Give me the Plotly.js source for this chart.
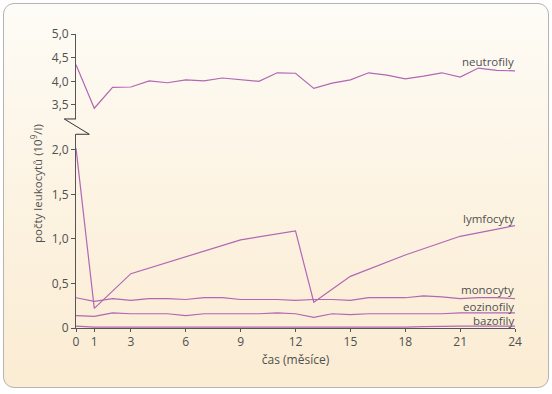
<!DOCTYPE html>
<html>
<head>
<meta charset="utf-8">
<script src="https://cdn.plot.ly/plotly-3.0.1.min.js"></script>
<style>
html,body{margin:0;padding:0;background:#ffffff;}
#wrap{position:relative;width:552px;height:394px;overflow:hidden;}
#frame{position:absolute;left:3px;top:3px;width:544px;height:383px;border:1.5px solid #b4b4b4;border-radius:11px;
background:linear-gradient(to bottom,#fefcf7 0%,#fcf3e2 50%,#fbecd3 100%);}
#chart{position:absolute;left:0;top:0;width:552px;height:394px;}
</style>
</head>
<body>
<div id="wrap"><div id="frame"></div><div id="chart"></div></div>
<script>
// ---- data ----
const months = [0,1,2,3,4,5,6,7,8,9,10,11,12,13,14,15,16,17,18,19,20,21,22,23,24];
const neutrofily = [4.35,3.43,3.87,3.88,4.01,3.97,4.03,4.01,4.07,4.04,4.00,4.18,4.17,3.85,3.96,4.03,4.18,4.13,4.05,4.11,4.18,4.09,4.28,4.23,4.22];
const lymfocytyMonths = [0,1,3,6,9,12,13,15,18,21,24];
const lymfocyty = [2.02,0.22,0.61,0.80,0.99,1.09,0.29,0.58,0.82,1.03,1.15];
const monocyty = [0.34,0.30,0.33,0.31,0.33,0.33,0.32,0.34,0.34,0.32,0.32,0.32,0.31,0.32,0.32,0.31,0.34,0.34,0.34,0.36,0.35,0.33,0.34,0.34,0.33];
const eozinofily = [0.14,0.13,0.17,0.16,0.16,0.16,0.14,0.16,0.16,0.16,0.16,0.17,0.16,0.12,0.16,0.15,0.16,0.16,0.16,0.16,0.16,0.17,0.17,0.17,0.17];
const bazofily = [0.02,0.01,0.01,0.01,0.01,0.01,0.01,0.01,0.01,0.01,0.01,0.01,0.01,0.005,0.01,0.01,0.01,0.01,0.01,0.015,0.02,0.02,0.02,0.02,0.02];
const xTicks = [0,1,3,6,9,12,15,18,21,24];
const xTickText = ['0','1','3','6','9','12','15','18','21','24'];
const yLowTicks = [0,0.5,1.0,1.5,2.0];
const yLowText = ['0','0,5','1,0','1,5','2,0'];
const yHighTicks = [3.5,4.0,4.5,5.0];
const yHighText = ['3,5','4,0','4,5','5,0'];
const seriesNames = ['neutrofily','lymfocyty','monocyty','eozinofily','bazofily'];

const lineColor = '#b266b4';
const textColor = '#505050';
const font = 'Open Sans, Segoe UI, sans-serif';
const ln = {color: lineColor, width: 1.2};

const traces = [
  {x: months, y: neutrofily, yaxis: 'y2', xaxis: 'x', mode: 'lines', line: ln, name: seriesNames[0]},
  {x: lymfocytyMonths, y: lymfocyty, mode: 'lines', line: ln, name: seriesNames[1]},
  {x: months, y: monocyty, mode: 'lines', line: ln, name: seriesNames[2]},
  {x: months, y: eozinofily, mode: 'lines', line: ln, name: seriesNames[3]},
  {x: months, y: bazofily, mode: 'lines', line: ln, name: seriesNames[4]}
];

const lowTop = 0.659, highBottom = 0.711;
const axisCommon = {showline: true, linecolor: '#555', linewidth: 1, ticks: 'outside', ticklen: 4, tickcolor: '#555',
  showgrid: false, zeroline: false, tickfont: {family: font, size: 12, color: textColor}};

const annFont = {family: font, size: 11.5, color: textColor};
const layout = {
  width: 552, height: 394,
  margin: {l: 76, r: 37, t: 34, b: 66},
  paper_bgcolor: 'rgba(0,0,0,0)', plot_bgcolor: 'rgba(0,0,0,0)',
  showlegend: false,
  font: {family: font, color: textColor, size: 12},
  xaxis: Object.assign({}, axisCommon, {range: [0, 24], tickmode: 'array', tickvals: xTicks, ticktext: xTickText,
    anchor: 'y', ticklen: 3,
    title: {text: 'čas (měsíce)', font: {family: font, size: 12, color: textColor}, standoff: 6}}),
  yaxis: Object.assign({}, axisCommon, {domain: [0, lowTop], range: [0, 2.176], tickmode: 'array',
    tickvals: yLowTicks, ticktext: yLowText, anchor: 'x'}),
  yaxis2: Object.assign({}, axisCommon, {domain: [highBottom, 1], range: [3.204, 5.0], tickmode: 'array',
    tickvals: yHighTicks, ticktext: yHighText, anchor: 'x'}),
  shapes: [
    {type: 'path', xref: 'paper', yref: 'paper',
     path: 'M 0,' + highBottom + ' L -0.0267,' + highBottom + ' L 0.0303,' + lowTop + ' L 0,' + lowTop,
     line: {color: '#333', width: 1}}
  ],
  annotations: [
    {text: seriesNames[0], x: 24, y: 4.41, xref: 'x', yref: 'y2', xanchor: 'right', yanchor: 'middle', showarrow: false, font: annFont, borderpad: 0},
    {text: seriesNames[1], x: 24, y: 1.23, xref: 'x', yref: 'y', xanchor: 'right', yanchor: 'middle', showarrow: false, font: annFont, borderpad: 0},
    {text: seriesNames[2], x: 24, y: 0.43, xref: 'x', yref: 'y', xanchor: 'right', yanchor: 'middle', showarrow: false, font: annFont, borderpad: 0},
    {text: seriesNames[3], x: 24, y: 0.245, xref: 'x', yref: 'y', xanchor: 'right', yanchor: 'middle', showarrow: false, font: annFont, borderpad: 0},
    {text: seriesNames[4], x: 24, y: 0.08, xref: 'x', yref: 'y', xanchor: 'right', yanchor: 'middle', showarrow: false, font: annFont, borderpad: 0},
    {text: 'počty leukocytů (10<sup>9</sup>/l)', textangle: -90, xref: 'paper', yref: 'paper',
     x: -0.0888, y: 0.49, xanchor: 'center', yanchor: 'middle', showarrow: false, font: annFont}
  ]
};

Plotly.newPlot('chart', traces, layout, {displayModeBar: false, staticPlot: true});
</script>
</body>
</html>
